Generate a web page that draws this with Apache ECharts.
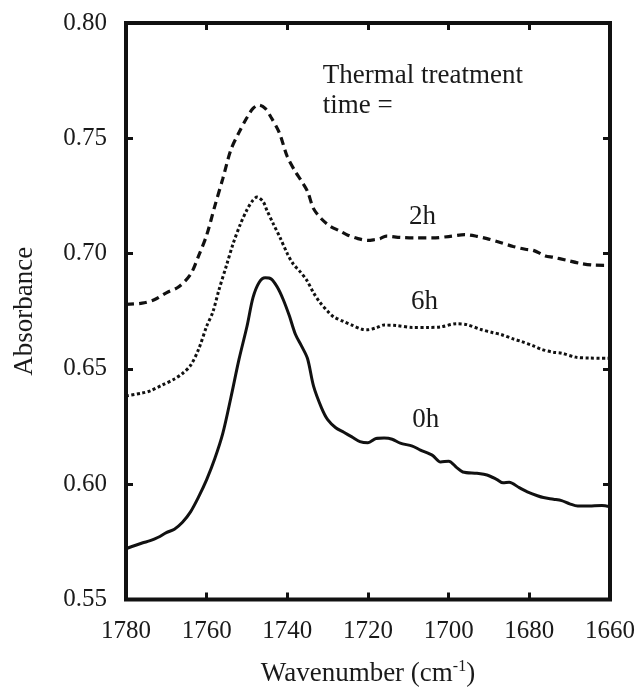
<!DOCTYPE html>
<html>
<head>
<meta charset="utf-8">
<script src="https://cdn.jsdelivr.net/npm/echarts@6/dist/echarts.min.js"></script>
<style>
  html, body { margin: 0; padding: 0; background: #fff; }
  #chart { width: 640px; height: 692px; }
</style>
</head>
<body>
<div id="chart"></div>
<script>
// FTIR carbonyl band, absorbance vs wavenumber for three thermal treatment times

const wn0h = [1780, 1776, 1774, 1772, 1770, 1768, 1766, 1764, 1762, 1760, 1758, 1756, 1754, 1752, 1750,
  1748.5, 1747, 1745.5, 1744, 1742.5, 1741, 1739.5, 1738, 1736.5, 1735, 1733.5, 1731.5, 1730, 1728, 1726,
  1724, 1722, 1720, 1718, 1716, 1714, 1712, 1709, 1707, 1704, 1702, 1700, 1698, 1696.5, 1693, 1690.5,
  1688, 1686.5, 1685, 1682.5, 1680.5, 1678, 1676.5, 1674, 1672, 1670, 1668, 1665, 1662, 1660];
const abs0h = [0.572, 0.5745, 0.5755, 0.577, 0.579, 0.5805, 0.5835, 0.588, 0.5945, 0.602, 0.611, 0.622, 0.6375, 0.654, 0.6685,
  0.681, 0.6875, 0.6895, 0.689, 0.6855, 0.68, 0.673, 0.665, 0.66, 0.6545, 0.6425, 0.633, 0.628, 0.6245, 0.6225,
  0.6205, 0.6185, 0.618, 0.6198, 0.62, 0.6195, 0.6178, 0.6165, 0.6148, 0.6125, 0.6096, 0.61, 0.6072, 0.6053, 0.6047, 0.604,
  0.602, 0.6006, 0.6008, 0.5985, 0.5967, 0.595, 0.5942, 0.5935, 0.5929, 0.5915, 0.5905, 0.5906, 0.5908, 0.5903];

const wn2h = [1780, 1776, 1773, 1770, 1767, 1764, 1762, 1760, 1758, 1756, 1754, 1752, 1750, 1748.5, 1747,
  1745.5, 1744, 1742, 1740, 1738, 1736.5, 1735, 1733.5, 1731.5, 1729.5, 1727, 1725, 1722.5, 1720, 1718.5,
  1717, 1715.5, 1712, 1708, 1704, 1700, 1696, 1693, 1690.5, 1687, 1684, 1681, 1679, 1676, 1674, 1671,
  1667.5, 1664, 1660];
const abs2h = [0.678, 0.6785, 0.68, 0.683, 0.6855, 0.691, 0.699, 0.708, 0.7205, 0.7325, 0.745, 0.7525, 0.759, 0.763, 0.7644,
  0.763, 0.759, 0.7525, 0.742, 0.7355, 0.7315, 0.727, 0.7195, 0.715, 0.712, 0.7098, 0.708, 0.7065, 0.7057, 0.706,
  0.7065, 0.7076, 0.707, 0.7068, 0.7068, 0.7074, 0.7082, 0.7075, 0.7065, 0.7047, 0.7031, 0.7019, 0.7014, 0.699, 0.6984, 0.6972,
  0.6958, 0.695, 0.6949];

const wn6h = [1780, 1776, 1774, 1771, 1768, 1766, 1764, 1762, 1760, 1758.5, 1757, 1755, 1753.5, 1751.7, 1750,
  1748.5, 1747.5, 1746, 1745, 1743.5, 1741.8, 1740, 1738.5, 1737, 1735.2, 1733.5, 1732, 1730, 1728.5, 1726,
  1724, 1721.5, 1720, 1718, 1716, 1713, 1709, 1705, 1702, 1698, 1695.5, 1692, 1689, 1687, 1684, 1682,
  1679, 1677, 1674, 1672, 1668.5, 1665, 1660];
const abs6h = [0.6383, 0.6395, 0.6405, 0.643, 0.6456, 0.648, 0.6515, 0.6585, 0.6685, 0.6745, 0.684, 0.6954, 0.704, 0.7125, 0.719,
  0.7232, 0.7245, 0.7225, 0.7185, 0.713, 0.7069, 0.70, 0.6954, 0.6925, 0.6885, 0.683, 0.679, 0.675, 0.6726, 0.6705,
  0.669, 0.6672, 0.667, 0.6678, 0.669, 0.6688, 0.668, 0.668, 0.6682, 0.6696, 0.6692, 0.6671, 0.6657, 0.6649, 0.663, 0.6619,
  0.66, 0.6585, 0.6572, 0.6568, 0.6551, 0.6547, 0.6546];

// in-plot annotations: [wavenumber, absorbance, text]
const notes = [
  [1706.5, 0.7160, '2h'],
  [1706.0, 0.6792, '6h'],
  [1705.7, 0.6277, '0h']
];
const legendNote = [
  [1731.2, 0.7769, 'Thermal treatment'],
  [1731.2, 0.7641, 'time =']
];

const xRange = { min: 1660, max: 1780, interval: 20 };
const yRange = { min: 0.55, max: 0.80, interval: 0.05 };

const FONT = '"Liberation Serif", "Times New Roman", serif';
const INK = '#111';
const TEXT = '#1a1a1a';

const zip = (xs, ys) => xs.map((x, i) => [x, ys[i]]);

const tick = { show: true, inside: true, length: 7, lineStyle: { color: INK, width: 3 } };

function xAxisDef(pos, withLabels) {
  return {
    type: 'value', position: pos, inverse: true,
    min: xRange.min, max: xRange.max, interval: xRange.interval,
    axisLine: { show: false },
    axisTick: tick,
    splitLine: { show: false },
    axisLabel: withLabels ? {
      show: true, margin: 19, color: TEXT, fontFamily: FONT, fontSize: 25,
      formatter: v => String(Math.round(v))
    } : { show: false }
  };
}
function yAxisDef(pos, withLabels) {
  return {
    type: 'value', position: pos,
    min: yRange.min, max: yRange.max, interval: yRange.interval,
    axisLine: { show: false },
    axisTick: tick,
    splitLine: { show: false },
    axisLabel: withLabels ? {
      show: true, margin: 19, color: TEXT, fontFamily: FONT, fontSize: 25,
      formatter: v => v.toFixed(2)
    } : { show: false }
  };
}

const xMain = xAxisDef('bottom', true);
xMain.name = '{a|Wavenumber (cm}{s|-1}{a|)}';
xMain.nameLocation = 'middle';
xMain.nameGap = 59;
xMain.nameTextStyle = {
  rich: {
    a: { fontFamily: FONT, fontSize: 27, color: TEXT, lineHeight: 30 },
    s: { fontFamily: FONT, fontSize: 16, color: TEXT, lineHeight: 18, verticalAlign: 'top' }
  }
};

const yMain = yAxisDef('left', true);
yMain.name = 'Absorbance';
yMain.nameLocation = 'middle';
yMain.nameGap = 88;
yMain.nameRotate = 90;
yMain.nameTextStyle = { fontFamily: FONT, fontSize: 27, color: TEXT };

const lineSeries = (name, xs, ys, type, width) => ({
  name, type: 'line', data: zip(xs, ys),
  xAxisIndex: 0, yAxisIndex: 0,
  smooth: 0.3, showSymbol: false, symbol: 'none',
  lineStyle: { color: INK, width, type, cap: 'butt' },
  z: 3
});

const labelSeries = (data, position) => ({
  type: 'scatter', silent: true, symbolSize: 0,
  xAxisIndex: 0, yAxisIndex: 0,
  itemStyle: { opacity: 1, color: TEXT },
  data: data.map(d => ({ value: [d[0], d[1]], name: d[2] })),
  label: {
    show: true, position, distance: 0, opacity: 1,
    formatter: p => p.name,
    fontFamily: FONT, fontSize: 27, color: TEXT
  },
  z: 4
});

const chart = echarts.init(document.getElementById('chart'), null, { renderer: 'canvas' });
chart.setOption({
  animation: false,
  backgroundColor: '#fff',
  grid: {
    left: 126, right: 30, top: 23, bottom: 86,
    show: true, borderColor: INK, borderWidth: 4, backgroundColor: 'transparent'
  },
  xAxis: [xMain, xAxisDef('top', false)],
  yAxis: [yMain, yAxisDef('right', false)],
  series: [
    lineSeries('2h', wn2h, abs2h, [8, 5], 3.2),
    lineSeries('6h', wn6h, abs6h, [3, 2.5], 3),
    lineSeries('0h', wn0h, abs0h, 'solid', 3),
    labelSeries(notes, 'inside'),
    labelSeries(legendNote, 'right')
  ]
});
</script>
</body>
</html>
